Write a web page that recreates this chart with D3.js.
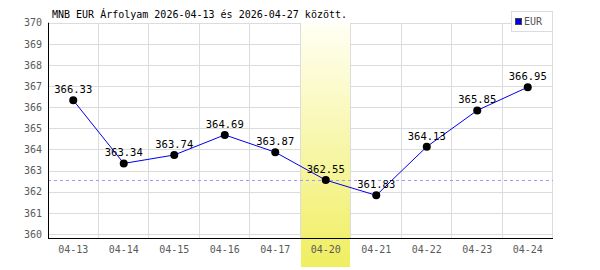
<!doctype html>
<html>
<head>
  <meta charset="utf8"/>
  <style>
    body { margin: 0; background: #fff; }
    text { font-family: "DejaVu Sans Mono", monospace; }
    .grid line { stroke: #dcdcdc; stroke-width: 1px; shape-rendering: crispEdges; }
    .tick text { fill: #5a5a5a; font-size: 10px; }
  </style>
</head>
<body>
  <svg width='600' height='270'></svg>
  <script src="https://d3js.org/d3.v7.min.js"></script>
  <script>
    var dates = ['04-13', '04-14', '04-15', '04-16', '04-17', '04-20', '04-21', '04-22', '04-23', '04-24'];
    var rates = [366.33, 363.34, 363.74, 364.69, 363.87, 362.55, 361.83, 364.13, 365.85, 366.95];
    var yTicks = [360, 361, 362, 363, 364, 365, 366, 367, 368, 369, 370];
    var highlightDate = '04-20';
    var refRate = 362.55;
    var title = 'MNB EUR Árfolyam 2026-04-13 és 2026-04-27 között.';
    var seriesName = 'EUR';

    var svg = d3.select('svg'),
        plotLeft = 48, plotRight = 553, plotTop = 22.7, plotBottom = 238;

    var x = d3.scaleBand().domain(dates).range([plotLeft, plotRight]).padding(0);
    var y = d3.scaleLinear().domain([360, 370]).range([234, plotTop]);

    // gradient for highlighted day
    var grad = svg.append('defs').append('linearGradient')
        .attr('id', 'hl').attr('x1', 0).attr('y1', 0).attr('x2', 0).attr('y2', 1);
    grad.append('stop').attr('offset', '0%').attr('stop-color', '#fffff4');
    grad.append('stop').attr('offset', '100%').attr('stop-color', '#f0ee60');

    // grid
    var grid = svg.append('g').attr('class', 'grid');
    grid.selectAll('.h').data(yTicks).enter().append('line')
        .attr('x1', plotLeft).attr('x2', plotRight - 1)
        .attr('y1', function(d) { return Math.round(y(d)) + 0.5; })
        .attr('y2', function(d) { return Math.round(y(d)) + 0.5; });
    grid.selectAll('.v').data(dates).enter().append('line')
        .attr('x1', function(d) { return Math.round(x(d) + x.bandwidth()) - 0.5; })
        .attr('x2', function(d) { return Math.round(x(d) + x.bandwidth()) - 0.5; })
        .attr('y1', plotTop).attr('y2', plotBottom);

    // highlighted band
    svg.append('rect')
        .attr('x', x(highlightDate) + 0.5)
        .attr('width', x.bandwidth() - 1.5)
        .attr('y', plotTop)
        .attr('height', 267 - plotTop)
        .attr('fill', 'url(#hl)');

    // reference dashed line
    svg.append('line')
        .attr('x1', plotLeft).attr('x2', plotRight)
        .attr('y1', Math.round(y(refRate)) + 0.5).attr('y2', Math.round(y(refRate)) + 0.5)
        .attr('stroke', '#9a9aff').attr('stroke-dasharray', '3,3');

    // axes
    var yAxis = svg.append('g')
        .attr('transform', 'translate(' + plotLeft + ',0)')
        .call(d3.axisLeft(y).tickValues(yTicks).tickSize(0).tickPadding(6).tickFormat(d3.format('d')));
    yAxis.select('.domain').remove();
    svg.append('line').attr('x1', plotLeft + 0.5).attr('x2', plotLeft + 0.5)
        .attr('y1', plotTop).attr('y2', plotBottom).attr('stroke', '#000');

    var xAxis = svg.append('g')
        .attr('transform', 'translate(0,' + plotBottom + ')')
        .call(d3.axisBottom(x).tickSize(0).tickPadding(8));
    xAxis.select('.domain').remove();
    svg.append('line').attr('x1', plotLeft).attr('x2', plotRight)
        .attr('y1', plotBottom + 0.5).attr('y2', plotBottom + 0.5).attr('stroke', '#000');

    // line + points
    var pts = dates.map(function(d, i) { return {date: d, value: rates[i]}; });
    var line = d3.line()
        .x(function(d) { return x(d.date) + x.bandwidth() / 2; })
        .y(function(d) { return y(d.value); });
    svg.append('path').datum(pts)
        .attr('d', line).attr('fill', 'none').attr('stroke', '#0000ee').attr('stroke-width', 1);

    svg.selectAll('.pt').data(pts).enter().append('circle')
        .attr('cx', function(d) { return x(d.date) + x.bandwidth() / 2; })
        .attr('cy', function(d) { return y(d.value); })
        .attr('r', 4).attr('fill', '#000');

    svg.selectAll('.lbl').data(pts).enter().append('text')
        .attr('x', function(d) { return x(d.date) + x.bandwidth() / 2; })
        .attr('y', function(d) { return y(d.value) - 7; })
        .attr('text-anchor', 'middle')
        .style('font-size', '10.5px')
        .text(function(d) { return d.value.toFixed(2); });

    // title
    svg.append('text').attr('x', 52).attr('y', 18)
        .style('font-size', '10px').text(title);

    // legend
    svg.append('rect').attr('x', 511.5).attr('y', 11.5).attr('width', 41).attr('height', 20)
        .attr('fill', '#fff').attr('stroke', '#dcdcdc');
    svg.append('rect').attr('x', 515.5).attr('y', 18.5).attr('width', 6).attr('height', 6)
        .attr('fill', '#0000ee').attr('stroke', '#444');
    svg.append('text').attr('x', 524).attr('y', 25)
        .style('font-size', '10px').attr('fill', '#555').text(seriesName);
  </script>
</body>
</html>
